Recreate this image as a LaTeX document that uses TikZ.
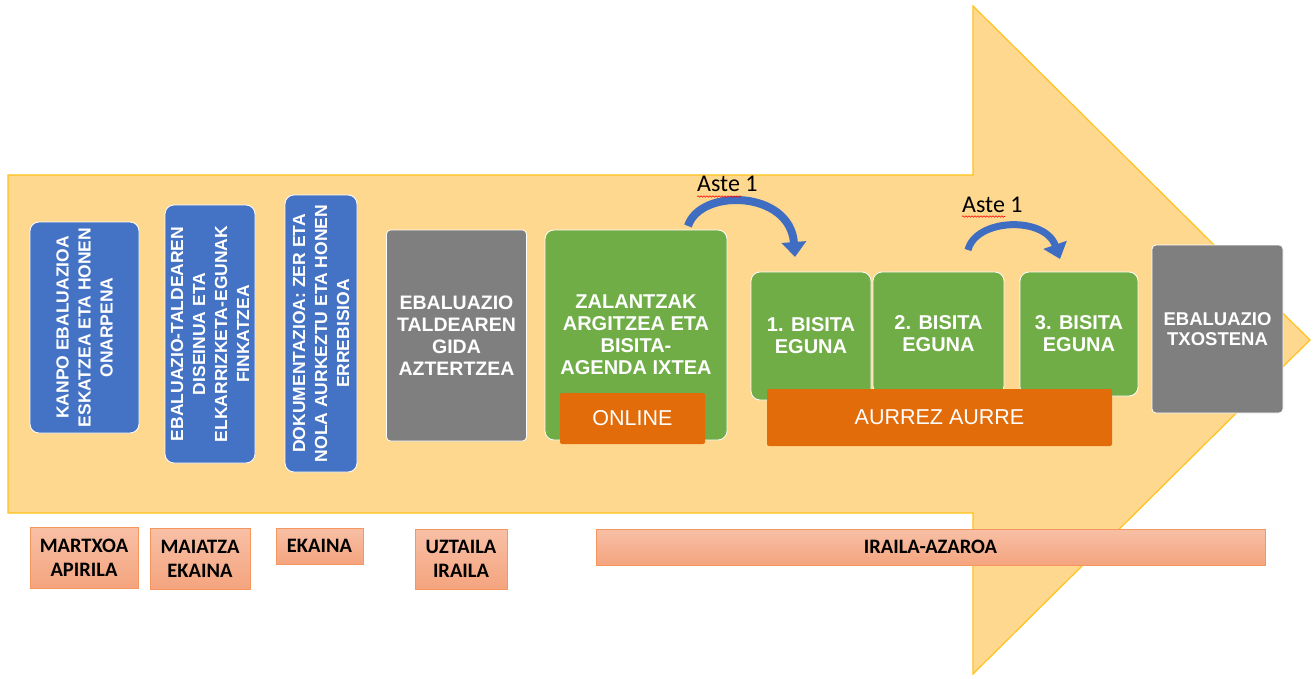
\documentclass[tikz,border=0pt]{standalone}
\usepackage{fontspec}
\setmainfont{Liberation Sans}
\newfontfamily\calfont{Carlito}
\usetikzlibrary{arrows.meta,decorations.pathmorphing}
\definecolor{cfill}{HTML}{FFD88F}
\definecolor{cborder}{HTML}{FFC21A}
\definecolor{cblue}{HTML}{4472C4}
\definecolor{cgreen}{HTML}{70AD47}
\definecolor{cgrey}{HTML}{7F7F7F}
\definecolor{corange}{HTML}{E36C0A}
\definecolor{ccurve}{HTML}{3F6DC2}
\definecolor{cmtop}{HTML}{F8C0A6}
\definecolor{cmbot}{HTML}{F4A47E}
\definecolor{cmborder}{HTML}{F5965E}
\begin{document}
\begin{tikzpicture}[x=1pt,y=-1pt,
  box/.style={draw=white, line width=0.8pt, text=white, inner sep=0pt, align=center},
  bluebox/.style={box, fill=cblue, rounded corners=9pt, rotate=90, font=\fontsize{17.5}{22}\selectfont\bfseries},
  greybox/.style={box, fill=cgrey, rounded corners=4pt, font=\fontsize{19.5}{22}\selectfont\bfseries},
  greenbox/.style={box, fill=cgreen, rounded corners=9pt, font=\fontsize{20}{22}\selectfont\bfseries},
  orangebox/.style={fill=corange, rounded corners=2pt, text=white, inner sep=0pt, font=\fontsize{21.5}{24}\selectfont},
  month/.style={draw=cmborder, line width=0.8pt, top color=cmtop, bottom color=cmbot, inner sep=0pt, align=center, font=\calfont\fontsize{20.5}{24}\selectfont\bfseries},
  curved/.style={draw=ccurve, line width=8pt, -{Triangle[length=15pt,width=24pt]}},
  aste/.style={anchor=base west, inner sep=0pt, font=\calfont\fontsize{24}{28}\selectfont},
  squiggle/.style={draw=red, line width=0.6pt, decorate, decoration={snake, amplitude=0.7pt, segment length=3pt}}
]
\useasboundingbox (0,0) rectangle (1316,679);
\fill[white] (0,0) rectangle (1316,679);

% big arrow
\draw[fill=cfill, draw=cborder, line width=1.2pt, line join=miter]
  (8,175) -- (973,175) -- (973,6) -- (1310,340) -- (973,674) -- (973,513) -- (8,513) -- cycle;

% blue rotated boxes
\node[bluebox, minimum width=211, minimum height=109] (b1) at (84.5,327.5)
  {KANPO EBALUAZIOA\\ESKATZEA ETA HONEN\\ONARPENA};
\node[bluebox, minimum width=258, minimum height=90] (b2) at (210,334)
  {EBALUAZIO-TALDEAREN\\DISEINUA ETA\\ELKARRIZKETA-EGUNAK\\FINKATZEA};
\node[bluebox, minimum width=277, minimum height=72] (b3) at (321,333.5)
  {DOKUMENTAZIOA: ZER ETA\\NOLA AURKEZTU ETA HONEN\\ERREBISIOA};

% grey boxes
\node[greybox, minimum width=140, minimum height=211] (g1) at (456.5,335.5)
  {EBALUAZIO\\TALDEAREN\\GIDA\\AZTERTZEA};
\node[greybox, minimum width=131, minimum height=168, font=\fontsize{18.5}{20}\selectfont\bfseries] (g2) at (1217.5,329)
  {EBALUAZIO\\TXOSTENA};

% green boxes
\node[greenbox, minimum width=182, minimum height=210] (z1) at (636,335)
  {ZALANTZAK\\ARGITZEA ETA\\BISITA-\\AGENDA IXTEA};
\node[greenbox, minimum width=120, minimum height=128] (v1) at (811,336)
  {1. BISITA\\EGUNA};
\node[greenbox, minimum width=131, minimum height=123] (v2) at (938.5,333.5)
  {2. BISITA\\EGUNA};
\node[greenbox, minimum width=118, minimum height=124] (v3) at (1079,334)
  {3. BISITA\\EGUNA};

% orange boxes
\node[orangebox, minimum width=145, minimum height=51] (on) at (632.5,418.5) {ONLINE};
\node[orangebox, minimum width=345, minimum height=57] (au) at (939.5,417.5) {AURREZ AURRE};

% curved arrows
\coordinate (t1) at (688,226);
\coordinate (h1) at (795,257);
\coordinate (t2) at (968,250);
\coordinate (h2) at (1060,259);
\draw[curved] (t1) .. controls (700,188) and (790,190) .. (h1);
\draw[curved, line width=7pt] (t2) .. controls (976,218) and (1045,216) .. (h2);

\node[aste] (a1) at (697,192) {Aste 1};
\node[aste] (a2) at (962,212) {Aste 1};
\draw[squiggle] (697,196.5) -- (741,196.5);
\draw[squiggle] (962,216.5) -- (1005,216.5);

% month labels
\node[month, minimum width=108, minimum height=61] (m1) at (84,557.5) {MARTXOA\\APIRILA};
\node[month, minimum width=100, minimum height=61] (m2) at (200,558.5) {MAIATZA\\EKAINA};
\node[month, minimum width=87, minimum height=36] (m3) at (319.5,546) {EKAINA};
\node[month, minimum width=92, minimum height=60] (m4) at (461,559) {UZTAILA\\IRAILA};
\node[month, minimum width=669, minimum height=36] (m5) at (930.5,547) {IRAILA-AZAROA};
\end{tikzpicture}
\end{document}
